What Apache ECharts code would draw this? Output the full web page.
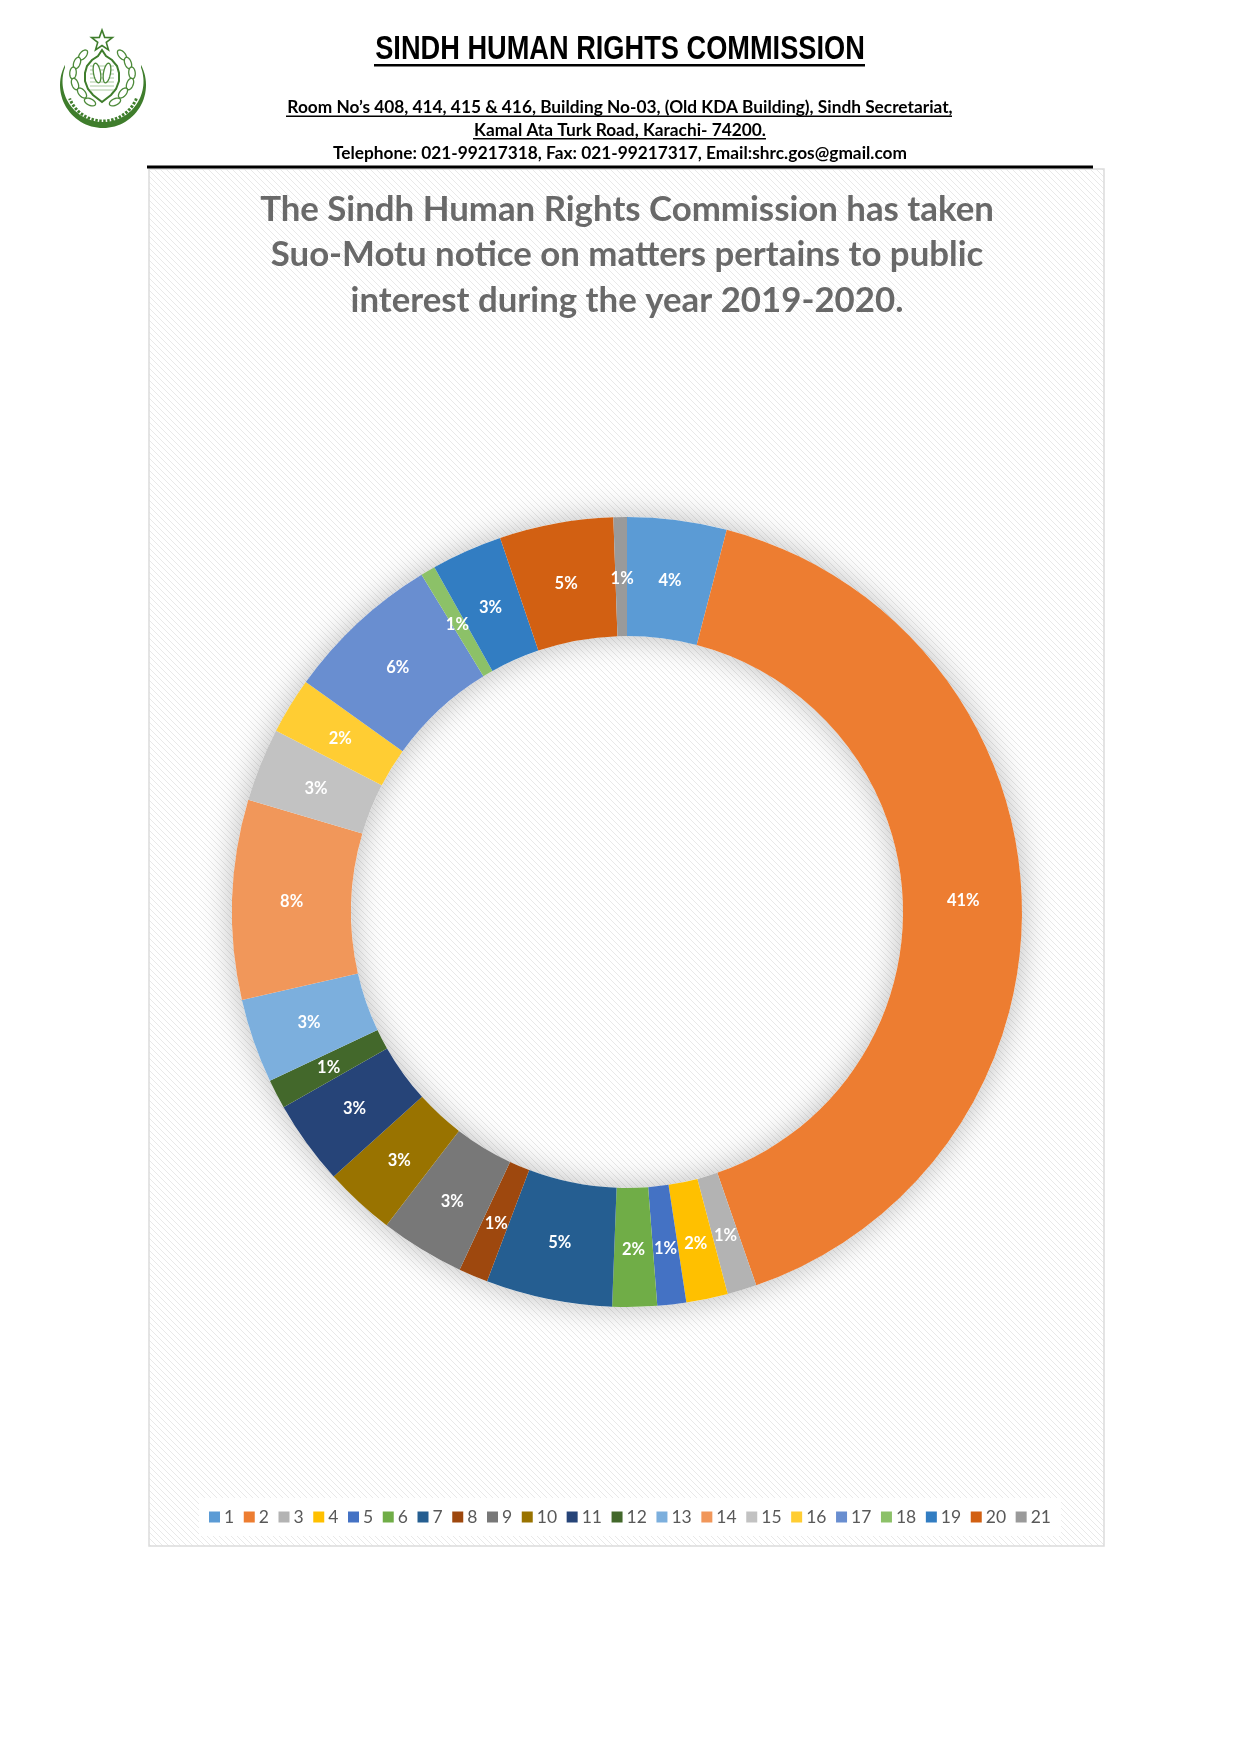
<!DOCTYPE html>
<html><head><meta charset="utf-8">
<style>html,body{margin:0;padding:0;background:#fff}#c{width:1241px;height:1754px}</style>
<script src="https://cdn.jsdelivr.net/npm/echarts@6/dist/echarts.min.js"></script>
</head><body><div id="c"></div>
<script>
const categories = ['1','2','3','4','5','6','7','8','9','10','11','12','13','14','15','16','17','18','19','20','21'];
const shares = [4.06,40.6,1.2,1.7,1.18,1.82,5.16,1.2,3.45,2.9,3.45,1.2,3.45,8.15,3.0,2.3,6.4,0.6,2.9,4.65,0.55];
const colors = ['#5B9BD5','#ED7D31','#B3B3B3','#FFC000','#4472C4','#70AD47','#255E91','#9E480E','#787878','#997300','#264478','#43682B','#7CAFDD','#F1975A','#C2C2C2','#FFCD33','#698ED0','#8CC168','#327DC2','#D26012','#9A9A9A'];
const labelNudges = [[0,4],[-2,2],[0,0],[0,0],[0,0],[0,-1],[0,-1],[1,0],[1,0],[2,0],[2,-1],[2,0],[2,0],[3,0],[3,3],[2,3],[1,4],[1,5],[1,5],[0,5],[1,5]];
const titleLines = ['The Sindh Human Rights Commission has taken','Suo-Motu notice on matters pertains to public','interest during the year 2019-2020.'];
const headerTitle = 'SINDH HUMAN RIGHTS COMMISSION';
const addressLines = ['Room No’s 408, 414, 415 & 416, Building No-03, (Old KDA Building), Sindh Secretariat,','Kamal Ata Turk Road, Karachi- 74200.','Telephone: 021-99217318, Fax: 021-99217317, Email:shrc.gos@gmail.com'];

const hatch = document.createElement('canvas');
hatch.width = hatch.height = 6;
(function(){
  const g = hatch.getContext('2d');
  g.fillStyle = '#ffffff'; g.fillRect(0,0,6,6);
  g.strokeStyle = '#e9e9e9'; g.lineWidth = 1;
  g.beginPath();
  g.moveTo(-1,2); g.lineTo(4,7); g.moveTo(2,-1); g.lineTo(8,5); g.moveTo(-1,5); g.lineTo(1,7);
  g.stroke();
})();

function text(x,y,s,size,weight,family,color,sx){
  return {type:'text',x:x,y:y,scaleX:sx||1,silent:true,style:{text:s,fill:color||'#000',font:weight+' '+size+'px '+family,textAlign:'center',textVerticalAlign:'middle'}};
}
const GREEN='#3f7d2c';
function arcPts(cx,cy,r,a0,a1,n){const p=[];for(let i=0;i<=n;i++){const a=(a0+(a1-a0)*i/n)*Math.PI/180;p.push([cx+r*Math.cos(a),cy+r*Math.sin(a)]);}return p;}
function leaf(cx,cy,len,wid,rot){
  const p=[],a=rot*Math.PI/180;
  for(let i=0;i<24;i++){const t=i/24*2*Math.PI;const u=len/2*Math.cos(t),v=wid/2*Math.sin(t);
    p.push([cx+u*Math.cos(a)-v*Math.sin(a),cy+u*Math.sin(a)+v*Math.cos(a)]);}
  return {type:'polygon',shape:{points:p},style:{fill:'#fff',stroke:'#4d8a3a',lineWidth:1.3}};
}
const emblem=[];
emblem.push({type:'polygon',shape:{points:arcPts(103,85,43,-28,208,60).concat(arcPts(103,81.5,40.5,200,-20,60))},style:{fill:GREEN}});
emblem.push({type:'polyline',shape:{points:arcPts(103,85,36,22,158,50)},style:{stroke:GREEN,lineWidth:3,lineDash:[2.5,1.5],fill:'none'}});
[[83,55,-50],[77,63,-70],[73,73,-85],[75,84,70],[82,93,50],[90,102,25]].forEach(l=>{
  emblem.push(leaf(l[0],l[1],12,6.5,l[2]));
  emblem.push(leaf(205-l[0],l[1],12,6.5,180-l[2]));
});
const dome=[[102,50],[98,56],[92,60],[87,66],[85,73],[85,81],[88,89],[93,95],[102,102],[111,95],[116,89],[119,81],[119,73],[117,66],[112,60],[106,56]];
emblem.push({type:'polygon',shape:{points:dome},style:{fill:'#fff',stroke:GREEN,lineWidth:2}});
[66,70,74,78,82,86,90].forEach(y=>emblem.push({type:'line',shape:{x1:90,y1:y,x2:114,y2:y},style:{stroke:'#a9c9a0',lineWidth:1}}));
emblem.push(leaf(97,73,20,7,80),leaf(107,73,20,7,100));
const star=[];for(let i=0;i<10;i++){const r=i%2?4.5:11,a=(-90+i*36)*Math.PI/180;star.push([102+r*Math.cos(a),41+r*Math.sin(a)]);}
emblem.push({type:'polygon',shape:{points:star},style:{fill:'#fff',stroke:GREEN,lineWidth:1.6}});

const chart = echarts.init(document.getElementById('c'),null,{renderer:'canvas'});
const graphics = [
  {type:'rect',z:-10,shape:{x:149,y:169,width:955,height:1377},style:{fill:{image:hatch,repeat:'repeat'},stroke:'#dcdcdc',lineWidth:1.5}},
  text(620,50,headerTitle,34,'bold','"Liberation Sans"','#000',0.8),
  {type:'rect',shape:{x:374,y:64,width:491,height:2.5},style:{fill:'#000'}},
  {type:'rect',shape:{x:147,y:165.5,width:946,height:3},style:{fill:'#000'}},
].concat(emblem);
addressLines.forEach((s,i)=>{
  graphics.push(text(620,[107,130,153][i],s,17.3,'bold','Lato'));
});
[[286,666],[473,293]].forEach((p,i)=>{
  graphics.push({type:'rect',shape:{x:p[0],y:[115.5,138][i],width:p[1],height:1.5},style:{fill:'#000'}});
});
titleLines.forEach((s,i)=>{
  graphics.push(text(627,[210,255,301][i],s,34.8,'bold','Lato','#696969'));
});
chart.setOption({
  animation:false,
  graphic:graphics,
  legend:{
    data:categories,left:199,top:1498,itemWidth:11,itemHeight:11,itemGap:9.6,
    backgroundColor:'#fff',padding:[10,10],icon:'rect',selectedMode:false,
    textStyle:{fontFamily:'Lato',fontSize:17.5,color:'#595959',padding:[0,0,0,-1]}
  },
  color:colors,
  series:[
    {type:'pie',silent:true,radius:[276,395],center:[627,912],z:1,
     label:{show:false},labelLine:{show:false},
     itemStyle:{color:'#fff',shadowBlur:32,shadowColor:'rgba(0,0,0,0.28)'},
     data:[{name:'_ring',value:1}]},
    {type:'pie',radius:[276,395],center:[627,912],z:2,startAngle:90,clockwise:true,
     data:categories.map((c,i)=>({name:c,value:shares[i],label:{offset:labelNudges[i]}})),
     itemStyle:{borderWidth:0},
     label:{show:true,position:'inside',color:'#fff',fontFamily:'Lato',fontWeight:'bold',fontSize:16.5,
       formatter:p=>Math.round(p.value)+'%'},
     labelLine:{show:false}}
  ]
});
</script></body></html>
